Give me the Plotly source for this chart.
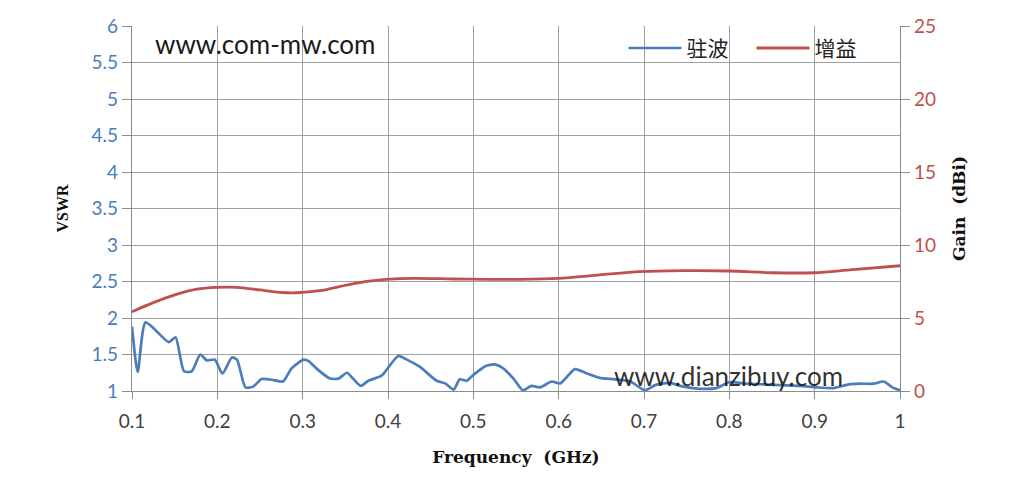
import plotly.graph_objects as go

# ---- data ----
freq_vswr = [0.100, 0.1067, 0.116, 0.143, 0.151, 0.161, 0.170, 0.180, 0.1875, 0.197,
             0.206, 0.217, 0.223, 0.233, 0.242, 0.252, 0.266, 0.277, 0.287, 0.301,
             0.307, 0.316, 0.332, 0.342, 0.352, 0.359, 0.368, 0.377, 0.391, 0.395,
             0.412, 0.422, 0.4375, 0.457, 0.467, 0.477, 0.484, 0.492, 0.500, 0.514,
             0.525, 0.535, 0.547, 0.558, 0.568, 0.578, 0.592, 0.602, 0.619, 0.633,
             0.648, 0.666, 0.684, 0.701, 0.713, 0.730, 0.746, 0.766, 0.785, 0.800,
             0.820, 0.840, 0.860, 0.883, 0.902, 0.922, 0.940, 0.953, 0.969, 0.981,
             0.991, 1.000]
vswr = [1.88, 1.26, 1.94, 1.67, 1.735, 1.27, 1.27, 1.50, 1.42, 1.43,
        1.24, 1.46, 1.43, 1.05, 1.06, 1.165, 1.15, 1.13, 1.31, 1.43,
        1.41, 1.31, 1.17, 1.17, 1.25, 1.17, 1.07, 1.14, 1.20, 1.24,
        1.48, 1.43, 1.33, 1.14, 1.105, 1.02, 1.16, 1.14, 1.22, 1.34,
        1.365, 1.31, 1.17, 1.01, 1.07, 1.05, 1.13, 1.105, 1.30, 1.24,
        1.18, 1.16, 1.13, 1.01, 1.08, 1.11, 1.06, 1.03, 1.04, 1.12,
        1.10, 1.09, 1.08, 1.07, 1.05, 1.04, 1.09, 1.10, 1.10, 1.13,
        1.05, 1.01]

freq_gain = [0.1, 0.125, 0.152, 0.176, 0.199, 0.223, 0.25, 0.273, 0.293, 0.32,
             0.352, 0.375, 0.398, 0.43, 0.477, 0.516, 0.555, 0.6, 0.648, 0.695,
             0.746, 0.8, 0.851, 0.9, 0.941, 1.0]
gain = [5.43, 6.05, 6.62, 6.97, 7.10, 7.10, 6.92, 6.76, 6.73, 6.87,
        7.26, 7.51, 7.65, 7.72, 7.67, 7.65, 7.65, 7.72, 7.95, 8.17,
        8.24, 8.22, 8.10, 8.10, 8.29, 8.58]

x_ticks = [0.1, 0.2, 0.3, 0.4, 0.5, 0.6, 0.7, 0.8, 0.9, 1.0]
x_tick_labels = ["0.1", "0.2", "0.3", "0.4", "0.5", "0.6", "0.7", "0.8", "0.9", "1"]
vswr_ticks = [1, 1.5, 2, 2.5, 3, 3.5, 4, 4.5, 5, 5.5, 6]
vswr_tick_labels = ["1", "1.5", "2", "2.5", "3", "3.5", "4", "4.5", "5", "5.5", "6"]
gain_ticks = [0, 5, 10, 15, 20, 25]

BLUE = "#4A7EBB"
RED = "#C0504D"
GRID = "#A0A0A0"
AXIS = "#8C8C8C"
TICKFONT = "Lato, Open Sans, sans-serif"
TITLEFONT = "DejaVu Serif, serif"

fig = go.Figure()
fig.add_trace(go.Scatter(x=freq_vswr, y=vswr, name="驻波", mode="lines",
                         line=dict(color=BLUE, width=2.7, shape="spline", smoothing=0.6),
                         yaxis="y"))
fig.add_trace(go.Scatter(x=freq_gain, y=gain, name="增益", mode="lines",
                         line=dict(color=RED, width=2.8, shape="spline", smoothing=0.8),
                         yaxis="y2"))

fig.update_layout(
    width=1016, height=482,
    margin=dict(l=124, r=124, t=18, b=99),
    paper_bgcolor="white", plot_bgcolor="white",
    showlegend=True,
    legend=dict(orientation="h", x=0.64, y=0.995, xanchor="left", yanchor="top",
                bgcolor="rgba(0,0,0,0)",
                font=dict(family="Noto Sans CJK SC", size=21, color="#222"),
                entrywidth=60, itemwidth=53),
    xaxis=dict(range=[0.1, 1.0], tickvals=x_ticks, ticktext=x_tick_labels,
               showgrid=True, gridcolor=GRID, gridwidth=1,
               showline=True, linecolor=AXIS, linewidth=1.2,
               ticks="outside", ticklen=7, tickcolor=AXIS,
               ticklabelstandoff=6,
               tickfont=dict(family=TICKFONT, size=19, color="#404040"),
               zeroline=False, automargin=False,
               title=dict(text="Frequency\u00a0 (GHz)",
                          font=dict(family=TITLEFONT, size=17, color="#111", weight="bold"),
                          standoff=20)),
    yaxis=dict(range=[1, 6], tickvals=vswr_ticks, ticktext=vswr_tick_labels,
               showgrid=True, gridcolor=GRID, gridwidth=1,
               showline=True, linecolor=AXIS, linewidth=1.2,
               ticks="outside", ticklen=9, tickcolor=AXIS,
               tickfont=dict(family=TICKFONT, size=19, color=BLUE),
               zeroline=False, automargin=False,
               title=dict(text="VSWR",
                          font=dict(family="Liberation Serif, serif", size=16,
                                    color="#111", weight="bold"),
                          standoff=18)),
    yaxis2=dict(range=[0, 25], tickvals=gain_ticks, overlaying="y", side="right",
                showgrid=False, showline=True, linecolor=AXIS, linewidth=1.2,
                ticks="outside", ticklen=9, tickcolor=AXIS,
                tickfont=dict(family=TICKFONT, size=19, color=RED),
                zeroline=False, automargin=False,
                title=dict(text="Gain\u00a0 (dBi)",
                           font=dict(family=TITLEFONT, size=17, color="#111", weight="bold"),
                           standoff=18)),
)

fig.add_annotation(text="www.com-mw.com", xref="paper", yref="paper",
                   x=(153 - 132) / 768, y=(391 - 44) / 365, xanchor="left", yanchor="middle",
                   showarrow=False,
                   font=dict(family=TICKFONT, size=26, color="#1a1a1a"))
fig.add_annotation(text="www.dianzibuy.com", xref="paper", yref="paper",
                   x=(612 - 132) / 768, y=(391 - 376) / 365, xanchor="left", yanchor="middle",
                   showarrow=False,
                   font=dict(family=TICKFONT, size=26, color="rgba(20,20,20,0.9)"))

fig.write_html("out.html")
